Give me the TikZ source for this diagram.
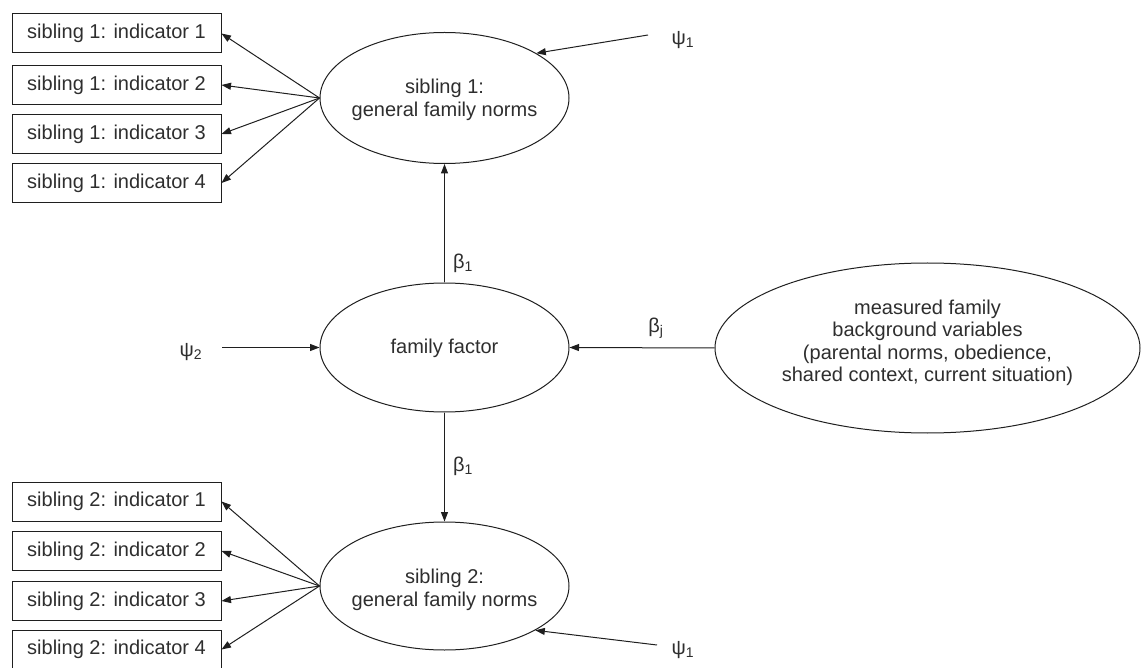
\documentclass[tikz,border=0pt]{standalone}
\usepackage{fontspec}
\setmainfont{Liberation Sans}
\usetikzlibrary{shapes.geometric,arrows.meta}
\tikzset{
  ink/.style={draw=black!88, line width=1pt},
  conn/.style={ink, -{Triangle[length=9.5pt,width=7pt]}},
  indbox/.style={ink, rectangle, minimum width=209pt, minimum height=39pt, inner sep=0pt, text=black!82},
  latent/.style={ink, ellipse, inner sep=0pt},
  lbl/.style={text=black!82, align=center, inner sep=0pt, font=\fontsize{20}{22.5}\selectfont},
}
\begin{document}
\begin{tikzpicture}[x=1pt,y=-1pt, every node/.style={font=\fontsize{20}{22.5}\selectfont}]
\useasboundingbox (0,0) rectangle (1141,668);
% latent ellipses
\node[latent, minimum width=249pt, minimum height=131pt] (s1) at (444.5,98) {};
\node[lbl] (s1t) at (444.5,100) {sibling 1:\\general family norms};
\node[latent, minimum width=249pt, minimum height=129pt] (ff) at (444.5,347.5) {};
\node[lbl] (fft) at (444.5,348) {family factor};
\node[latent, minimum width=249pt, minimum height=128pt] (s2) at (444.5,586) {};
\node[lbl] (s2t) at (444.5,590) {sibling 2:\\general family norms};
\node[latent, minimum width=425pt, minimum height=170pt] (m) at (927.5,348) {};
\node[lbl] (mt) at (927.5,343) {measured family\\background variables\\(parental norms, obedience,\\shared context, current situation)};
% indicator boxes
\node[indbox] (a1) at (116.5,33.5) {sibling 1: indicator 1};
\node[indbox] (a2) at (116.5,85) {sibling 1: indicator 2};
\node[indbox] (a3) at (116.5,134) {sibling 1: indicator 3};
\node[indbox] (a4) at (116.5,183) {sibling 1: indicator 4};
\node[indbox] (b1) at (116.5,501.5) {sibling 2: indicator 1};
\node[indbox] (b2) at (116.5,551) {sibling 2: indicator 2};
\node[indbox] (b3) at (116.5,601) {sibling 2: indicator 3};
\node[indbox] (b4) at (116.5,649.5) {sibling 2: indicator 4};
% labels
\node[lbl] (p1a) at (683,40) {ψ\textsubscript{1}};
\node[lbl] (p1b) at (683,650) {ψ\textsubscript{1}};
\node[lbl] (p2) at (191,352) {ψ\textsubscript{2}};
\node[lbl] (bt) at (463,263) {β\textsubscript{1}};
\node[lbl] (bb) at (463,466) {β\textsubscript{1}};
\node[lbl] (bj) at (656,328) {β\textsubscript{j}};
\coordinate (p1aE) at (648,35);
\coordinate (p1bE) at (657,645);
\coordinate (p2E) at (222,347.5);
% connectors
\foreach \b in {a1,a2,a3,a4} \draw[conn] (s1.west) -- (\b.east);
\foreach \b in {b1,b2,b3,b4} \draw[conn] (s2.west) -- (\b.east);
\draw[conn] (p1aE) -- (s1.26);
\draw[conn] (p1bE) -- (s2.-26);
\draw[conn] (p2E) -- (ff.west);
\draw[conn] (m.west) -- (ff.east);
\draw[conn] (ff.north) -- (s1.south);
\draw[conn] (ff.south) -- (s2.north);
\end{tikzpicture}
\end{document}
